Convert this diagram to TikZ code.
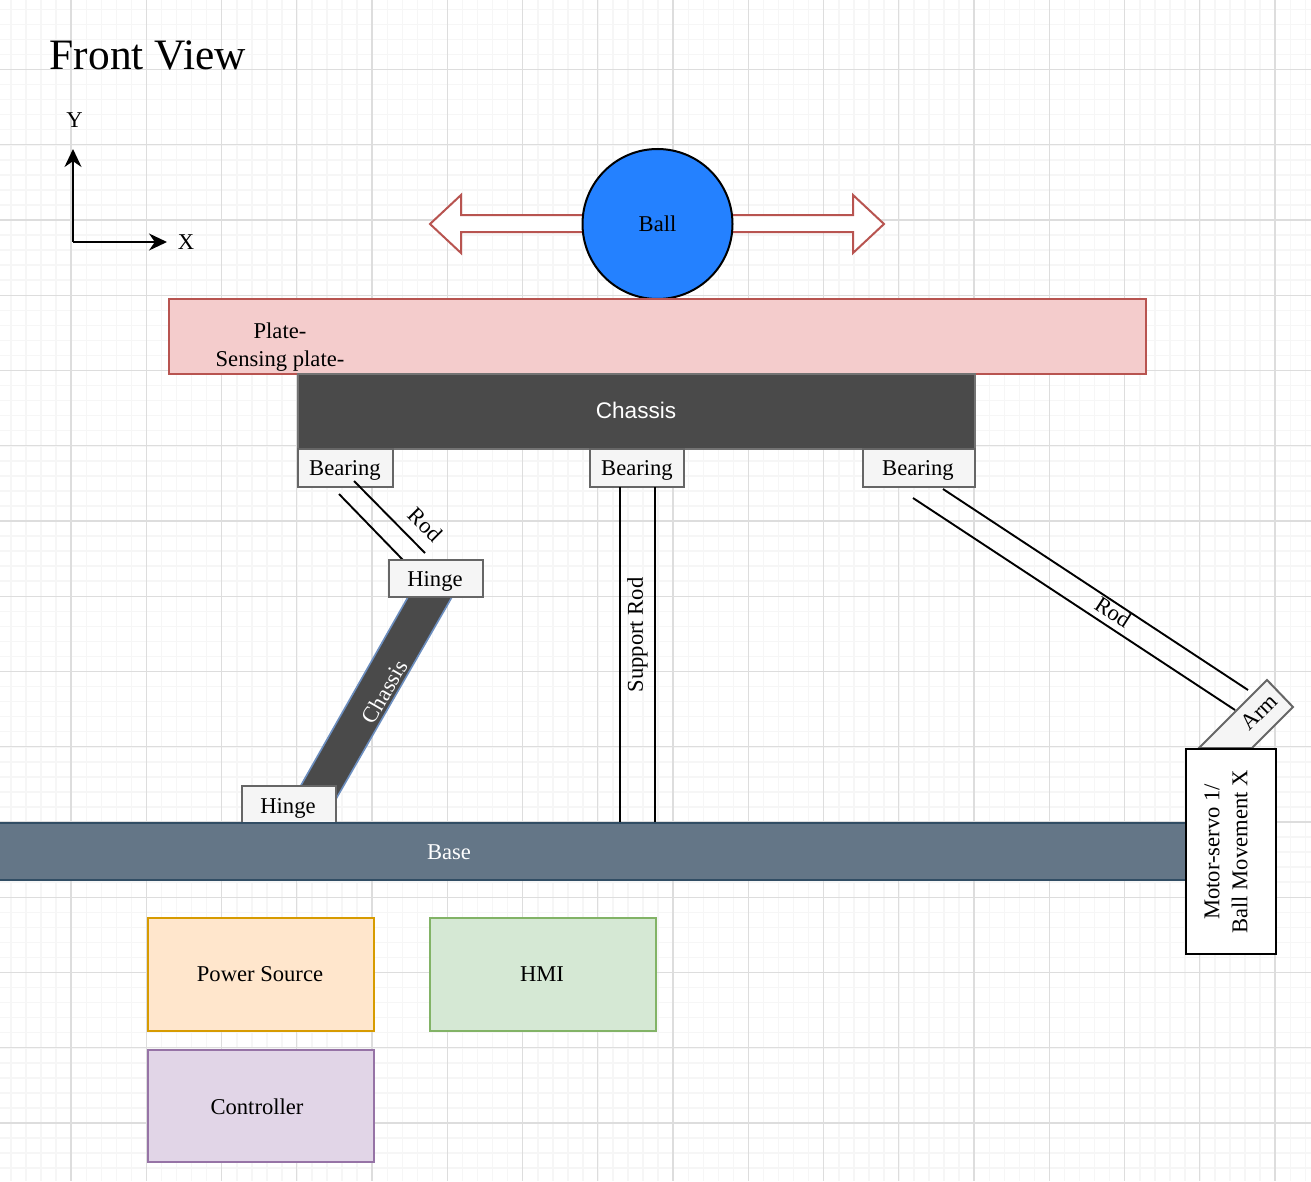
\documentclass[tikz,border=0pt]{standalone}
\usepackage{fontspec}
\setmainfont{Liberation Serif}
\newfontfamily\sansf{Liberation Sans}
\usetikzlibrary{arrows.meta}
\definecolor{gridmaj}{HTML}{DDDDDD}
\definecolor{gridmin}{HTML}{F6F6F6}
\definecolor{arrowred}{HTML}{B85450}
\tikzset{
  x=1pt,y=-1pt,
  lbl/.style={font=\fontsize{22.6}{28}\selectfont,inner sep=0pt,align=center},
  boxn/.style={draw=black!60,line width=2pt,fill=black!4,inner sep=0pt,anchor=north west},
  rodline/.style={line width=1.9pt,black},
  axis/.style={line width=2pt,-{Stealth[length=18pt,width=17pt]}},
  colbox/.style={line width=2pt,inner sep=0pt,anchor=north west}
}
\newcommand{\bx}[6]{\node[#1,minimum width=#5-#3,minimum height=#6-#4] (#2) at (#3-0.7,#4-0.7) {};}
\begin{document}
\begin{tikzpicture}
\useasboundingbox (0,0) rectangle (1311,1181);
\fill[white] (0,0) rectangle (1311,1181);
% grid
\foreach \i in {-1,...,88} \draw[gridmin,line width=1.5pt] ({11+15.05*\i},0) -- ({11+15.05*\i},1181);
\foreach \i in {-1,...,80} \draw[gridmin,line width=1.5pt] (0,{9.3+15.05*\i}) -- (1311,{9.3+15.05*\i});
\foreach \i in {0,...,16} \draw[gridmaj,line width=1.4pt] ({71+75.25*\i},0) -- ({71+75.25*\i},1181);
\foreach \i in {0,...,15} \draw[gridmaj,line width=1.4pt] (0,{69.5+75.25*\i}) -- (1311,{69.5+75.25*\i});
% title and axes
\node[font=\fontsize{43.4}{50}\selectfont,inner sep=0pt] (title) at (148,55) {Front View};
\coordinate (origin) at (73,242);
\coordinate (ytip) at (73,149);
\coordinate (xtip) at (167,242);
\draw[axis] (origin) -- (ytip);
\draw[axis] (origin) -- (xtip);
\node[lbl] (ylab) at (74.5,120) {Y};
\node[lbl] (xlab) at (186,242) {X};
% ball arrows
\draw[draw=arrowred,fill=white,line width=2pt]
  (582,215) -- (461,215) -- (461,195) -- (430,224) -- (461,253) -- (461,232) -- (582,232);
\draw[draw=arrowred,fill=white,line width=2pt]
  (733,215) -- (853,215) -- (853,195) -- (884,224) -- (853,253) -- (853,232) -- (733,232);
\node[circle,draw=black,line width=2pt,fill={rgb,255:red,36;green,129;blue,255},minimum size=150pt,inner sep=0pt,font=\fontsize{22.6}{28}\selectfont] (ball) at (657.5,224) {Ball};
% plate
\bx{colbox,draw=arrowred,fill={rgb,255:red,244;green,204;blue,204}}{plate}{169}{299}{1146}{374}
\node[lbl] (platelabel) at (280,347.5) {Plate-\\Sensing plate-};
% chassis
\bx{colbox,draw=black!55,fill={rgb,255:red,74;green,74;blue,74}}{chassis}{298}{374}{975}{449}
\node[lbl,font=\sansf\fontsize{22.6}{28}\selectfont,text=white] (chassislabel) at (636,410.5) {Chassis};
% rods
\coordinate (la1) at (354,481); \coordinate (lb1) at (425,553);
\coordinate (la2) at (339,494); \coordinate (lb2) at (403,560);
\coordinate (ma1) at (620,487); \coordinate (mb1) at (620,822);
\coordinate (ma2) at (655,487); \coordinate (mb2) at (655,822);
\coordinate (ra1) at (943,489); \coordinate (rb1) at (1248,690);
\coordinate (ra2) at (913,498); \coordinate (rb2) at (1235,710);
% slanted chassis
\draw[draw={rgb,255:red,108;green,142;blue,191},fill={rgb,255:red,74;green,74;blue,74},line width=1.6pt]
  (408,597) -- (452,597) -- (336,799) -- (300,787) -- cycle;
\node[lbl,text=white,rotate=60] (slantlabel) at (384.5,691.5) {Chassis};
% bearings and hinges
\bx{boxn}{b1}{298}{449}{393}{487}
\bx{boxn}{b2}{590}{449}{684}{487}
\bx{boxn}{b3}{863}{449}{975}{487}
\node[lbl] (b1t) at (345,470.5) {Bearing};
\node[lbl] (b2t) at (637,470.5) {Bearing};
\node[lbl] (b3t) at (918,470.5) {Bearing};
\draw[rodline] (la1) -- (lb1);
\draw[rodline] (la2) -- (lb2);
\draw[rodline] (ma1) -- (mb1);
\draw[rodline] (ma2) -- (mb2);
\draw[rodline] (ra1) -- (rb1);
\draw[rodline] (ra2) -- (rb2);
\node[lbl,rotate=-45] (rodl) at (425.5,524.5) {Rod};
\node[lbl,rotate=90] (rodm) at (637.5,635) {Support Rod};
\node[lbl,rotate=-33] (rodr) at (1113,612) {Rod};
\bx{boxn}{h1}{389}{560}{483}{597}
\bx{boxn}{h2}{242}{786}{336}{823}
\node[lbl] (h1t) at (435,581.5) {Hinge};
\node[lbl] (h2t) at (288,808) {Hinge};
% base
\bx{colbox,draw={rgb,255:red,49;green,77;blue,100},fill={rgb,255:red,100;green,118;blue,135}}{base}{-5}{823}{1186}{880}
\node[lbl,text=white] (baselabel) at (449,852.5) {Base};
% arm
\draw[draw=black!60,fill=black!4,line width=2pt] (1267,680) -- (1293,707) -- (1252,748) -- (1199,748) -- cycle;
\node[lbl,rotate=45] (armlabel) at (1259,712) {Arm};
% motor
\bx{colbox,draw=black,fill=white}{motor}{1186}{749}{1276}{954}
\node[lbl,rotate=90] (motorlabel) at (1226,852) {Motor-servo 1/\\Ball Movement X};
% coloured boxes
\bx{colbox,draw={rgb,255:red,215;green,155;blue,0},fill={rgb,255:red,255;green,230;blue,204}}{power}{148}{918}{374}{1031}
\node[lbl] (powert) at (260,974.5) {Power Source};
\bx{colbox,draw={rgb,255:red,130;green,179;blue,102},fill={rgb,255:red,213;green,232;blue,212}}{hmi}{430}{918}{656}{1031}
\node[lbl] (hmit) at (542,974.5) {HMI};
\bx{colbox,draw={rgb,255:red,150;green,115;blue,166},fill={rgb,255:red,225;green,213;blue,231}}{ctrl}{148}{1050}{374}{1162}
\node[lbl] (ctrlt) at (257,1106.5) {Controller};
\end{tikzpicture}
\end{document}
